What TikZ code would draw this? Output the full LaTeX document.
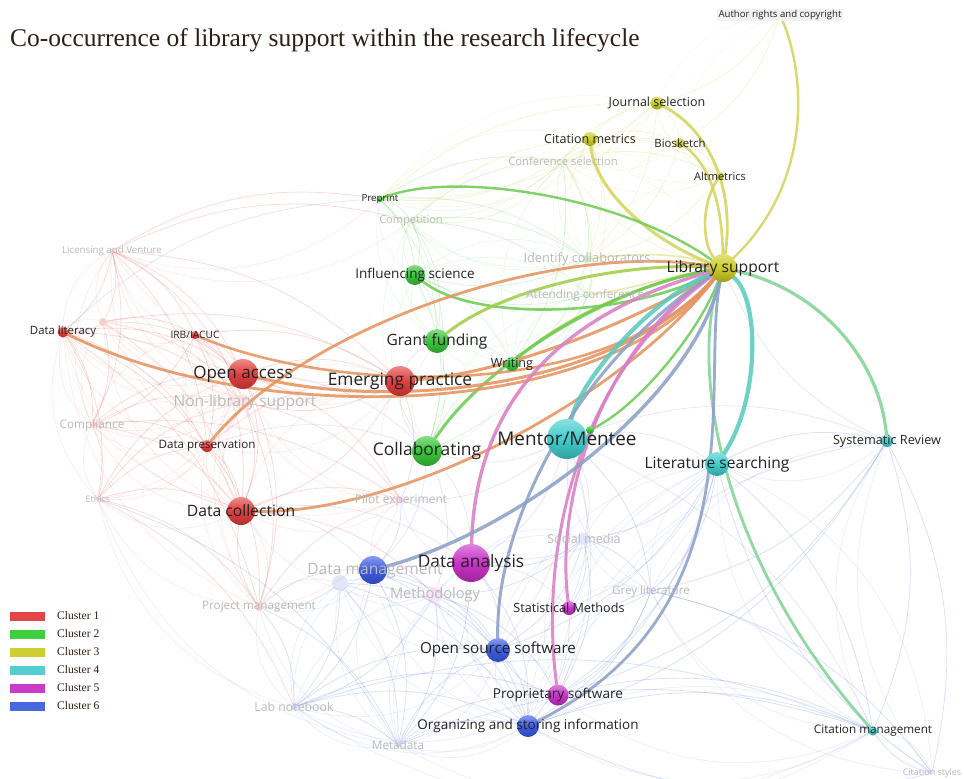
\documentclass[tikz,border=0pt]{standalone}
\usepackage{fontspec}
\setmainfont{Liberation Serif}
\newfontfamily\osans{Open Sans}
\pgfdeclarelayer{paper}
\pgfdeclarelayer{edges}
\pgfsetlayers{paper,edges,main}

% cluster colours
\definecolor{cR}{RGB}{226,62,62}
\definecolor{cG}{RGB}{58,196,58}
\definecolor{cY}{RGB}{204,204,40}
\definecolor{cT}{RGB}{64,204,204}
\definecolor{cM}{RGB}{200,50,200}
\definecolor{cB}{RGB}{60,92,226}
% legend swatch colours
\definecolor{k1c}{RGB}{226,70,70}
\definecolor{k2c}{RGB}{62,206,62}
\definecolor{k3c}{RGB}{206,206,50}
\definecolor{k4c}{RGB}{84,206,210}
\definecolor{k5c}{RGB}{200,60,200}
\definecolor{k6c}{RGB}{72,104,222}
% link colours (blends of the two end clusters)
\definecolor{eOr}{RGB}{228,148,96}
\definecolor{eGY}{RGB}{160,206,72}
\definecolor{eGr}{RGB}{110,204,84}
\definecolor{eTe}{RGB}{88,204,190}
\definecolor{eTY}{RGB}{130,212,150}
\definecolor{ePk}{RGB}{218,128,196}
\definecolor{eBg}{RGB}{140,160,200}
\definecolor{eYe}{RGB}{212,212,92}
\definecolor{ink}{RGB}{34,34,34}
\definecolor{titleink}{RGB}{48,30,20}

\tikzset{
  bub/.style={circle, inner sep=0pt, minimum size=#1},
  ball/.style={top color=#1!60!white, bottom color=#1!78!black, middle color=#1},
  ghost/.style={circle, inner sep=0pt, minimum size=#1, opacity=0.25},
  fs/.style={font=\osans\fontsize{#1}{#1}\selectfont},
  lbl/.style={text=ink, inner sep=0pt},
  dim/.style={text=black!27, inner sep=0pt},
  lnk/.style={line width=#1, line cap=round, opacity=0.88},
  haze/.style={line width=0.7, opacity=0.2, draw=#1},
  swatch/.style={minimum width=35, minimum height=9, inner sep=0pt, fill=#1},
  legtxt/.style={font=\fontsize{11.6}{11.6}\selectfont, text=titleink, anchor=west, inner sep=0pt},
}

\begin{document}
\begin{tikzpicture}[x=1pt, y=-1pt]
\begin{pgfonlayer}{paper}
  \fill[white] (0,0) rectangle (964,779);
\end{pgfonlayer}
\useasboundingbox (0,0) rectangle (964,779);

% ---------- items ----------
\node[bub=28, ball=cY] (lib) at (723,268) {};
\node[bub=6, ball=cY] (aur) at (780,15) {};
\node[bub=13, ball=cY] (js) at (657,103) {};
\node[bub=14, ball=cY] (cmx) at (590,139) {};
\node[bub=10, ball=cY] (bio) at (680,143) {};
\node[bub=8, ball=cY] (alt) at (720,176) {};
\node[bub=6, ball=cG] (pre) at (380,199) {};
\node[bub=20, ball=cG] (inf) at (415,275) {};
\node[bub=11, ball=cR] (dlit) at (63,332) {};
\node[bub=8, ball=cR] (irb) at (195,335) {};
\node[bub=24, ball=cG] (gf) at (437,341) {};
\node[bub=14, ball=cG] (wr) at (512,364) {};
\node[bub=30, ball=cR] (oa) at (243,374) {};
\node[bub=30, ball=cR] (ep) at (400,381) {};
\node[bub=12, ball=cR] (dp) at (207,446) {};
\node[bub=30, ball=cG] (col) at (427,451) {};
\node[bub=8, ball=cG] (gdot) at (590,430) {};
\node[bub=40, ball=cT] (mm) at (567,439) {};
\node[bub=24, ball=cT] (ls) at (717,464) {};
\node[bub=12, ball=cT] (sr) at (887,441) {};
\node[bub=28, ball=cR] (dc) at (241,511) {};
\node[bub=38, ball=cM] (da) at (471,563) {};
\node[bub=28, ball=cB] (dm) at (373,570) {};
\node[bub=14, ball=cM] (stat) at (569,608) {};
\node[bub=24, ball=cB] (oss) at (498,650) {};
\node[bub=21, ball=cM] (ps) at (558,695) {};
\node[bub=22, ball=cB] (org) at (528,726) {};
\node[bub=9, ball=cT] (cmg) at (873,731) {};

% faint items
\node[ghost=4, fill=cY] (cs) at (563,161) {};
\node[ghost=4, fill=cG] (comp) at (411,221) {};
\node[ghost=4, fill=cR] (lic) at (112,251) {};
\node[ghost=8, fill=cG] (idc) at (587,259) {};
\node[ghost=5, fill=cG] (att) at (588,295) {};
\node[ghost=8, fill=cR] (rx) at (103,322) {};
\node[ghost=16, fill=cR!50] (nls) at (243,402) {};
\node[ghost=4, fill=cR] (compl) at (92,425) {};
\node[ghost=4, fill=cR] (eth) at (98,499) {};
\node[ghost=5, fill=cM] (pilot) at (401,500) {};
\node[ghost=12, fill=cB!60] (sm) at (584,539) {};
\node[ghost=16, fill=cB!60] (dm2) at (340,583) {};
\node[ghost=16, fill=cM!50] (meth) at (435,595) {};
\node[ghost=5, fill=cM] (grey) at (651,591) {};
\node[ghost=8, fill=cR] (pm) at (259,607) {};
\node[ghost=6, fill=cB] (lab) at (294,707) {};
\node[ghost=5, fill=cB] (meta) at (398,745) {};
\node[ghost=3, fill=cT] (cst) at (932,773) {};

% ---------- links ----------
\begin{pgfonlayer}{edges}
% faint background web
\foreach \a/\b in {lic/dlit,lic/oa,lic/nls,lic/dp,lic/compl,lic/irb,lic/rx,rx/dlit,rx/oa,rx/irb,rx/compl,dlit/compl,dlit/eth,dlit/dc,dlit/nls,dlit/dp,compl/dc,compl/oa,compl/eth,eth/dc,eth/pm,eth/nls,dp/dc,nls/dc,nls/pm,oa/dc,oa/pm,irb/dc,irb/nls,irb/compl,pm/dc,dc/pilot,nls/pilot,ep/dc,ep/nls,oa/ep,lic/ep,compl/pilot,eth/lab,dlit/oa,irb/oa,dp/ep,compl/dp,eth/dp,rx/ep,lic/comp,rx/dc,rx/nls,lic/pre,compl/nls,eth/oa,dlit/pm,irb/dp,irb/ep,dp/pm,oa/pilot,ep/pilot,dc/meth,pm/pilot}
  {\draw[haze=cR] (\a) to[bend left=20] (\b);
   \draw[haze=cR, opacity=0.1] (\a) to[bend right=30] (\b);}
\foreach \a/\b in {pm/lab,pm/dm,dm/lab,dm/meta,dm/org,dm/oss,dm/meth,lab/meta,lab/org,lab/oss,meta/org,meta/oss,meta/ps,sm/oss,sm/da,sm/ps,sm/grey,grey/ps,grey/org,grey/cmg,grey/cst,meth/oss,meth/lab,meth/meta,pilot/da,pilot/dm,da/oss,da/org,oss/org,ps/cmg,org/cmg,cst/ls,cst/cmg,ls/cmg,ls/grey,ls/sr,sr/cmg,sr/cst,ls/org,ls/oss,meta/cmg,lab/cmg,dm2/lab,dm2/meta,dm2/pm,dm2/oss,pm/meta,eth/meta,sm/stat,grey/stat,sr/grey,ls/sm,mm/grey,sr/org,dm2/org,dm2/meth,meth/ps,meth/org,sm/meth,lab/ps,da/meta,stat/org,ps/oss,sr/ps,ls/ps,cst/org}
  {\draw[haze=cB] (\a) to[bend left=20] (\b);
   \draw[haze=cB, opacity=0.1] (\a) to[bend right=30] (\b);}
\foreach \a/\b in {pre/comp,pre/inf,comp/inf,comp/gf,inf/gf,gf/col,col/wr,idc/att,idc/wr,att/col,att/inf,comp/cs,cs/idc,pre/gf,comp/col,inf/col,cs/wr,idc/inf,comp/idc,pre/cs,att/wr,gf/wr,comp/att,pre/idc,inf/wr,gf/att}
  {\draw[haze=cG] (\a) to[bend left=20] (\b);
   \draw[haze=cG, opacity=0.1] (\a) to[bend right=30] (\b);}
\foreach \a/\b in {cs/js,cs/cmx,cs/bio,cs/alt,cmx/js,cmx/bio,js/bio,js/alt,bio/alt,cmx/idc,js/idc,lib/cs,cs/att,cmx/att,cmx/alt,pre/js,comp/cmx,aur/js,aur/bio,js/pre,cmx/pre,cs/comp,bio/idc,alt/idc}
  {\draw[haze=cY] (\a) to[bend left=20] (\b);
   \draw[haze=cY, opacity=0.1] (\a) to[bend right=30] (\b);}
\foreach \a/\b in {mm/da,mm/col,mm/ls,mm/sr,mm/stat,mm/ps,col/da,col/ep,oa/col,dp/col,dlit/pre,mm/sm,ls/stat,sr/lib,da/stat,ep/gf,dc/dm,dc/da,col/dm,mm/oss,mm/pilot,col/meth,mm/cmg,ls/da}
  \draw[haze=cT!50!cM] (\a) to[bend left=20] (\b);

% yellow-cluster links
\draw[lnk=2.4, eYe] (lib) .. controls (815,180) and (805,70) .. (aur);
\draw[lnk=2.8, eYe] (lib) .. controls (735,190) and (710,130) .. (js);
\draw[lnk=2.6, eYe] (lib) .. controls (722,200) and (708,163) .. (bio);
\draw[lnk=2.6, eYe] (lib) .. controls (703,245) and (700,205) .. (alt);
\draw[lnk=3.0, eYe] (lib) .. controls (650,240) and (595,190) .. (cmx);
\draw[lnk=1.6, eYe, opacity=0.5] (lib) .. controls (670,250) and (620,255) .. (idc);
\draw[lnk=1.6, eYe, opacity=0.5] (lib) .. controls (670,275) and (630,290) .. (att);

% green links
\draw[lnk=2.4, eGr] (lib) .. controls (620,195) and (450,170) .. (pre);
\draw[lnk=2.6, eGr] (lib) .. controls (620,320) and (470,320) .. (inf);
\draw[lnk=3.0, eGY] (lib) .. controls (620,262) and (500,290) .. (gf);
\draw[lnk=2.6, eGY] (lib) .. controls (650,280) and (560,318) .. (wr);
\draw[lnk=3.0, eGr] (lib) .. controls (600,290) and (480,370) .. (col);
\draw[lnk=2.4, eGr] (lib) .. controls (700,330) and (640,405) .. (gdot);

% orange links
\draw[lnk=2.8, eOr] (lib) .. controls (550,240) and (300,330) .. (dp);
\draw[lnk=2.8, eOr] (lib) .. controls (600,425) and (250,425) .. (dlit);
\draw[lnk=2.6, eOr] (lib) .. controls (600,405) and (330,392) .. (irb);
\draw[lnk=3.0, eOr] (lib) .. controls (620,385) and (400,412) .. (oa);
\draw[lnk=3.0, eOr] (lib) .. controls (650,312) and (520,372) .. (ep);
\draw[lnk=2.8, eOr] (lib) .. controls (620,400) and (400,515) .. (dc);

% teal links
\draw[lnk=4.2, eTe] (lib) .. controls (650,300) and (580,380) .. (mm);
\draw[lnk=4.2, eTe] (lib) .. controls (760,300) and (760,400) .. (ls);
\draw[lnk=3.2, eTY] (lib) .. controls (820,290) and (880,360) .. (sr);
\draw[lnk=2.8, eTY] (lib) .. controls (690,370) and (720,560) .. (cmg);

% pink links
\draw[lnk=3.4, ePk] (lib) .. controls (540,320) and (475,420) .. (da);
\draw[lnk=3.0, ePk] (lib) .. controls (600,350) and (555,500) .. (stat);
\draw[lnk=3.0, ePk] (lib) .. controls (570,380) and (540,560) .. (ps);

% blue-grey links
\draw[lnk=3.0, eBg] (lib) .. controls (580,360) and (495,520) .. (oss);
\draw[lnk=3.4, eBg] (lib) .. controls (690,400) and (520,530) .. (dm);
\draw[lnk=2.8, eBg] (lib) .. controls (700,380) and (760,610) .. (org);
\end{pgfonlayer}

% ---------- labels ----------
\node[lbl, fs=15.7] (libL) at (lib) {Library support};
\node[lbl, fs=9.6, fill=black!5, inner sep=1.5pt] (aurL) at (aur) {Author rights and copyright};
\node[lbl, fs=12.5] (jsL) at (js) {Journal selection};
\node[lbl, fs=12.5] (cmxL) at (cmx) {Citation metrics};
\node[lbl, fs=11.4] (bioL) at (bio) {Biosketch};
\node[lbl, fs=11] (altL) at (alt) {Altmetrics};
\node[lbl, fs=9.7] (preL) at (pre) {Preprint};
\node[lbl, fs=13.5] (infL) at (inf) {Influencing science};
\node[lbl, fs=11.4] (dlitL) at (dlit) {Data literacy};
\node[lbl, fs=10.2] (irbL) at (irb) {IRB/IACUC};
\node[lbl, fs=15.5] (gfL) at (gf) {Grant funding};
\node[lbl, fs=12.6] (wrL) at (wr) {Writing};
\node[lbl, fs=17] (oaL) at (oa) {Open access};
\node[lbl, fs=17.3] (epL) at (ep) {Emerging practice};
\node[lbl, fs=11.6] (dpL) at (dp) {Data preservation};
\node[lbl, fs=17.4] (colL) at (col) {Collaborating};
\node[lbl, fs=18.9] (mmL) at (mm) {Mentor/Mentee};
\node[lbl, fs=15.6] (lsL) at (ls) {Literature searching};
\node[lbl, fs=12.7] (srL) at (sr) {Systematic Review};
\node[lbl, fs=15.7] (dcL) at (dc) {Data collection};
\node[lbl, fs=17.3] (daL) at (da) {Data analysis};
\node[lbl, fs=12.6] (statL) at (stat) {Statistical Methods};
\node[lbl, fs=15.2] (ossL) at (oss) {Open source software};
\node[lbl, fs=13.6] (psL) at (ps) {Proprietary software};
\node[lbl, fs=13.5] (orgL) at (org) {Organizing and storing information};
\node[lbl, fs=11.7] (cmgL) at (cmg) {Citation management};

\node[dim, fs=11.2] (csL) at (cs) {Conference selection};
\node[dim, fs=11] (compL) at (comp) {Competition};
\node[dim, fs=9.7] (licL) at (lic) {Licensing and Venture};
\node[dim, fs=12.8] (idcL) at (idc) {Identify collaborators};
\node[dim, fs=11.8] (attL) at (att) {Attending conferences};
\node[dim, fs=15.5] (nlsL) at (245,402) {Non-library support};
\node[dim, fs=11.8] (complL) at (compl) {Compliance};
\node[dim, fs=9] (ethL) at (eth) {Ethics};
\node[dim, fs=12] (pilotL) at (pilot) {Pilot experiment};
\node[dim, fs=12.5] (smL) at (sm) {Social media};
\node[dim, fs=15.6] (dmL) at (375,571) {Data management};
\node[dim, fs=14.6] (methL) at (meth) {Methodology};
\node[dim, fs=11.6] (greyL) at (grey) {Grey literature};
\node[dim, fs=11.7] (pmL) at (pm) {Project management};
\node[dim, fs=12.3] (labL) at (lab) {Lab notebook};
\node[dim, fs=11.7] (metaL) at (meta) {Metadata};
\node[dim, fs=9] (cstL) at (cst) {Citation styles};

% ---------- title ----------
\node[anchor=west, inner sep=0pt, text=titleink, font=\fontsize{25.5}{25.5}\selectfont] (title) at (10,40) {Co-occurrence of library support within the research lifecycle};

% ---------- legend ----------
\node[swatch=k1c] (k1) at (27.5,616) {};
\node[swatch=k2c] (k2) at (27.5,634) {};
\node[swatch=k3c] (k3) at (27.5,652) {};
\node[swatch=k4c] (k4) at (27.5,670) {};
\node[swatch=k5c] (k5) at (27.5,688) {};
\node[swatch=k6c] (k6) at (27.5,706) {};
\node[legtxt] (t1) at (57,616) {Cluster 1};
\node[legtxt] (t2) at (57,634) {Cluster 2};
\node[legtxt] (t3) at (57,652) {Cluster 3};
\node[legtxt] (t4) at (57,670) {Cluster 4};
\node[legtxt] (t5) at (57,688) {Cluster 5};
\node[legtxt] (t6) at (57,706) {Cluster 6};
\end{tikzpicture}
\end{document}
